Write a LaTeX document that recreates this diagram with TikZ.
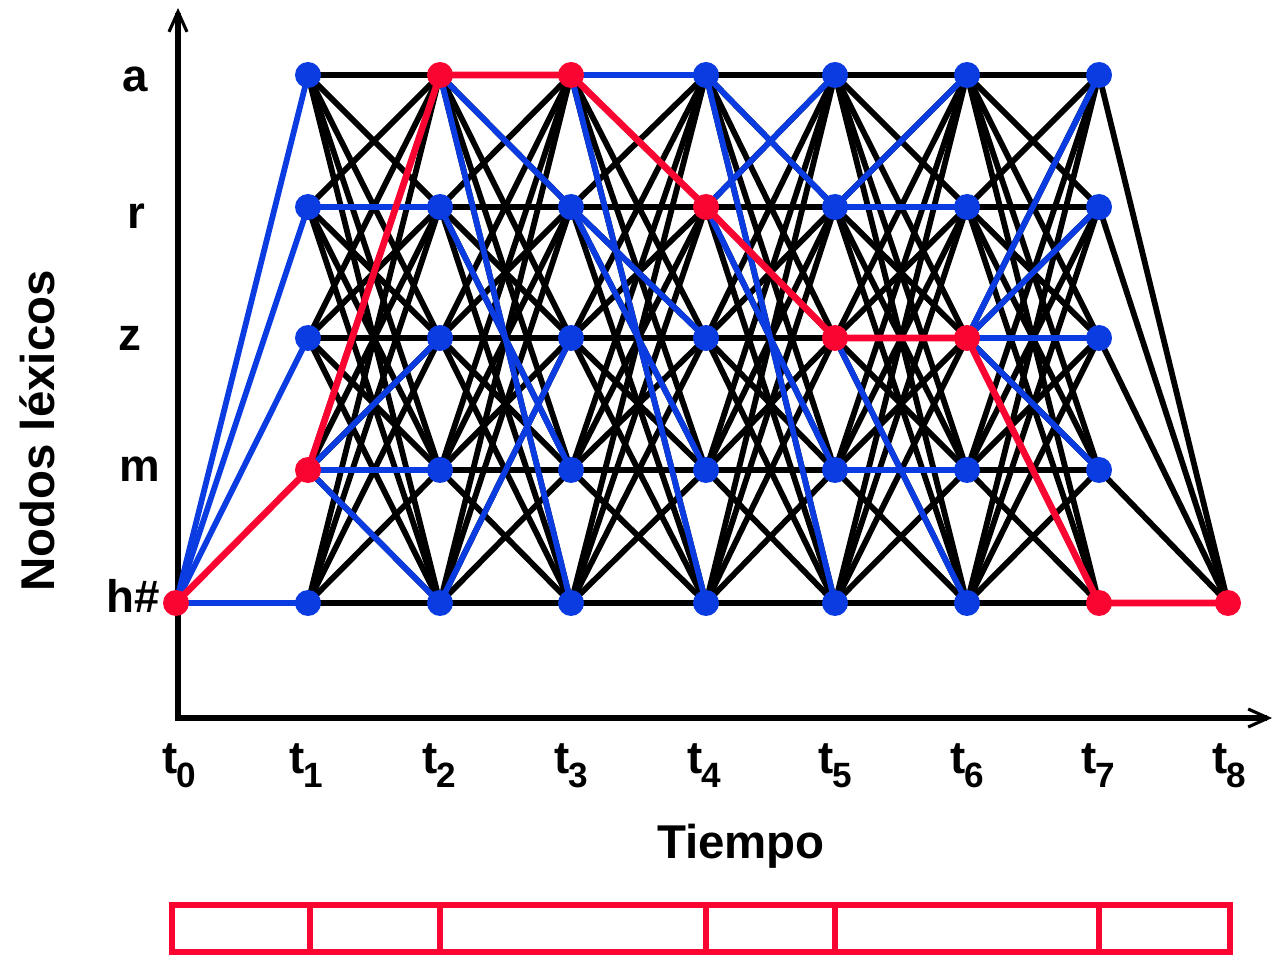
\documentclass[tikz,border=0pt]{standalone}
\usepackage{fontspec}
\setmainfont{Liberation Sans}
\usetikzlibrary{arrows.meta}
\definecolor{nblue}{RGB}{10,60,225}
\definecolor{nred}{RGB}{250,5,50}
\pgfdeclarelayer{edges}
\pgfsetlayers{edges,main}
\newcommand{\tlab}[1]{{\fontsize{26}{28}\selectfont t}\kern-0.5pt\raisebox{-8.5pt}{\fontsize{20}{22}\selectfont #1}}
\tikzset{
  stm1/.style={fill=nred}, sta2/.style={fill=nred}, sta3/.style={fill=nred},
  str4/.style={fill=nred}, stz5/.style={fill=nred}, stz6/.style={fill=nred},
  sth7/.style={fill=nred}
}
\begin{document}
\begin{tikzpicture}[x=0.02cm,y=-0.02cm,
  dot/.style={circle,fill=nblue,inner sep=0pt,minimum size=0.52cm},
  rdot/.style={circle,fill=nred,inner sep=0pt,minimum size=0.52cm},
  bk/.style={line width=3.3pt,black},
  bl/.style={line width=3.3pt,nblue},
  rd/.style={line width=3.8pt,nred,line join=round},
  rowlab/.style={font=\fontsize{26}{28}\selectfont\bfseries,anchor=base,inner sep=0pt},
  biglab/.style={font=\fontsize{27}{30}\selectfont\bfseries,anchor=base,inner sep=0pt},
  axis/.style={line width=3pt,-{Straight Barb[length=0.4cm,width=0.36cm,line width=1.8pt]}},
  seg/.style={line width=3pt,nred}]
\useasboundingbox (0,0) rectangle (1274,955);
% lattice nodes
\node[rdot] (h0) at (176,603) {};
\node[rdot] (h8) at (1228,603) {};
\foreach \c/\x in {1/308,2/440,3/571,4/706,5/835,6/967,7/1099}{
  \foreach \r/\y in {a/75,r/207,z/338,m/470,h/603}{
    \node[dot,st\r\c/.try] (\r\c) at (\x,\y) {};
  }
}
% axes
\coordinate (ytip) at (178,8);
\coordinate (xtip) at (1272,718);
\coordinate (ybot) at (178,721);
\coordinate (xleft) at (176,718);
\begin{pgfonlayer}{edges}
\draw[axis] (ybot) -- (ytip);
\draw[axis] (xleft) -- (xtip);
% black full connections
\foreach \c [evaluate=\c as \d using {int(\c+1)}] in {1,...,6}{
  \foreach \p in {a,r,z,m,h}{
    \foreach \q in {a,r,z,m,h}{
      \draw[bk] (\p\c.center) -- (\q\d.center);
    }
  }
}
\foreach \p in {a,r,z,m,h} \draw[bk] (\p7.center) -- (h8.center);
% blue edges
\foreach \u/\v in {h0/a1,h0/r1,h0/z1,h0/h1,
                   r1/r2,m1/z2,m1/m2,m1/h2,
                   a2/r3,a2/h3,r2/m3,h2/z3,
                   a3/a4,a3/h4,r3/z4,r3/m4,
                   a4/r5,a4/h5,r4/a5,r4/m5,
                   r5/a6,r5/r6,z5/h6,m5/m6,
                   z6/a7,z6/r7,z6/z7,z6/m7}
  \draw[bl] (\u.center) -- (\v.center);
% red path
\draw[rd] (h0.center) -- (m1.center) -- (a2.center) -- (a3.center) -- (r4.center)
  -- (z5.center) -- (z6.center) -- (h7.center) -- (h8.center);
\end{pgfonlayer}
% row labels
\node[rowlab] (la) at (135,92) {a};
\node[rowlab] (lr) at (136,229) {r};
\node[rowlab] (lz) at (130,351) {z};
\node[rowlab] (lm) at (140,482) {m};
\node[rowlab] (lh) at (133,613) {h\#};
% time labels
\foreach \i/\x in {0/179,1/306,2/439,3/571,4/704,5/835,6/967,7/1098,8/1229}
  \node[anchor=base,inner sep=0pt,font=\bfseries] (t\i) at (\x,773) {\tlab{\i}};
\node[biglab] (tiempo) at (741,858) {Tiempo};
\node[biglab,rotate=90] (nodos) at (54,431) {Nodos léxicos};
% segmentation bar
\draw[seg] (172,905) rectangle (1230,952);
\foreach \x in {310,440,706,835,1099} \draw[seg] (\x,905) -- (\x,952);
\end{tikzpicture}
\end{document}
